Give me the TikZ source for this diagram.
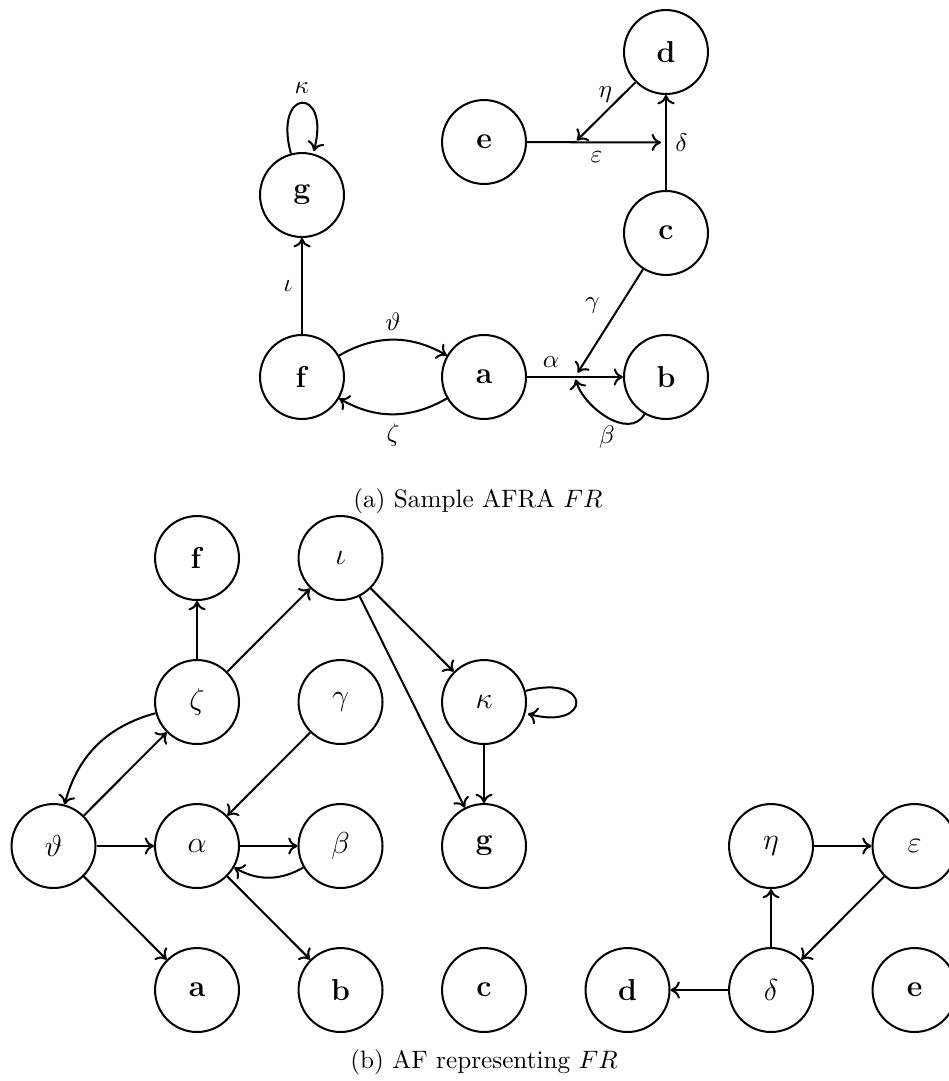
\documentclass[tikz,border=0pt]{standalone}
\usetikzlibrary{calc,arrows.meta}
\begin{document}
\begin{tikzpicture}[
    >={To[length=1.3mm, width=2.4mm]}, thick,
    arg/.style={draw, circle, minimum size=11.7mm, inner sep=0pt, font=\large},
    att/.style={->},
    legende/.style={font=\normalsize},
  ]
  \useasboundingbox (0,0) rectangle (13.226,-15.066);
  % --- (a) AFRA ---
  \node[arg] (d) at (9.282,-0.725) {\textbf{d}};
  \node[arg] (e) at (6.746,-1.979) {\textbf{e}};
  \node[arg] (g) at (4.209,-2.718) {\textbf{g}};
  \node[arg] (c) at (9.282,-3.247) {\textbf{c}};
  \node[arg] (f) at (4.209,-5.254) {\textbf{f}};
  \node[arg] (a) at (6.746,-5.254) {\textbf{a}};
  \node[arg] (b) at (9.282,-5.254) {\textbf{b}};
  % points d'attaque sur les attaques
  \coordinate (ab) at ($(a)!0.5!(b)$);
  \coordinate (cd) at ($(c)!0.5!(d)$);
  \coordinate (ecd) at ($(e)!0.5!(cd)$);

  \draw[att] (f) -- node[left] {$\iota$} (g);
  \path[att] (g) edge[loop above] node[above] {$\kappa$} ();
  \draw[att] (f) to[bend left=30] node[above] {$\vartheta$} (a);
  \draw[att] (a) to[bend left=30] node[below] {$\zeta$} (f);
  \draw[att] (a) -- node[above, pos=0.25] {$\alpha$} (b);
  \draw[att, shorten >=1pt] (b) to[out=-120, in=-75] node[below] {$\beta$} (ab);
  \draw[att, shorten >=2pt] (c) -- node[above left] {$\gamma$} (ab);
  \draw[att] (c) -- node[right] {$\delta$} (d);
  \draw[att, shorten >=2pt] (e) -- node[below] {$\varepsilon$} (cd);
  \draw[att, shorten >=1pt] (d) -- node[above] {$\eta$} (ecd);
  \node[legende] (capa) at (6.66,-6.98) {(a) Sample AFRA $FR$};

  % --- (b) AF ---
  \node[arg] (bf) at (2.746,-7.777) {\textbf{f}};
  \node[arg] (iota) at (4.746,-7.777) {$\iota$};
  \node[arg] (zeta) at (2.746,-9.784) {$\zeta$};
  \node[arg] (gamma) at (4.746,-9.784) {$\gamma$};
  \node[arg] (kappa) at (6.746,-9.784) {$\kappa$};
  \node[arg] (theta) at (0.746,-11.791) {$\vartheta$};
  \node[arg] (alpha) at (2.746,-11.791) {$\alpha$};
  \node[arg] (beta) at (4.746,-11.791) {$\beta$};
  \node[arg] (bg) at (6.746,-11.791) {\textbf{g}};
  \node[arg] (eta) at (10.746,-11.791) {$\eta$};
  \node[arg] (eps) at (12.746,-11.791) {$\varepsilon$};
  \node[arg] (ba) at (2.746,-13.798) {\textbf{a}};
  \node[arg] (bb) at (4.746,-13.798) {\textbf{b}};
  \node[arg] (bc) at (6.746,-13.798) {\textbf{c}};
  \node[arg] (bd) at (8.746,-13.798) {\textbf{d}};
  \node[arg] (delta) at (10.746,-13.798) {$\delta$};
  \node[arg] (be) at (12.746,-13.798) {\textbf{e}};

  \draw[att] (zeta) -- (bf);
  \draw[att] (zeta) -- (iota);
  \draw[att] (iota) -- (kappa);
  \draw[att] (iota) -- (bg);
  \path[att] (kappa) edge[loop right] ();
  \draw[att] (kappa) -- (bg);
  \draw[att] (gamma) -- (alpha);
  \draw[att] (zeta) to[bend right=30] (theta);
  \draw[att] (theta) -- (zeta);
  \draw[att] (theta) -- (alpha);
  \draw[att] (theta) -- (ba);
  \draw[att] (alpha) -- (beta);
  \draw[att] (beta) to[bend left=30] (alpha);
  \draw[att] (alpha) -- (bb);
  \draw[att] (eta) -- (eps);
  \draw[att] (eps) -- (delta);
  \draw[att] (delta) -- (eta);
  \draw[att] (delta) -- (bd);
  \node[legende] (capb) at (6.746,-14.80) {(b) AF representing $FR$};
\end{tikzpicture}
\end{document}
